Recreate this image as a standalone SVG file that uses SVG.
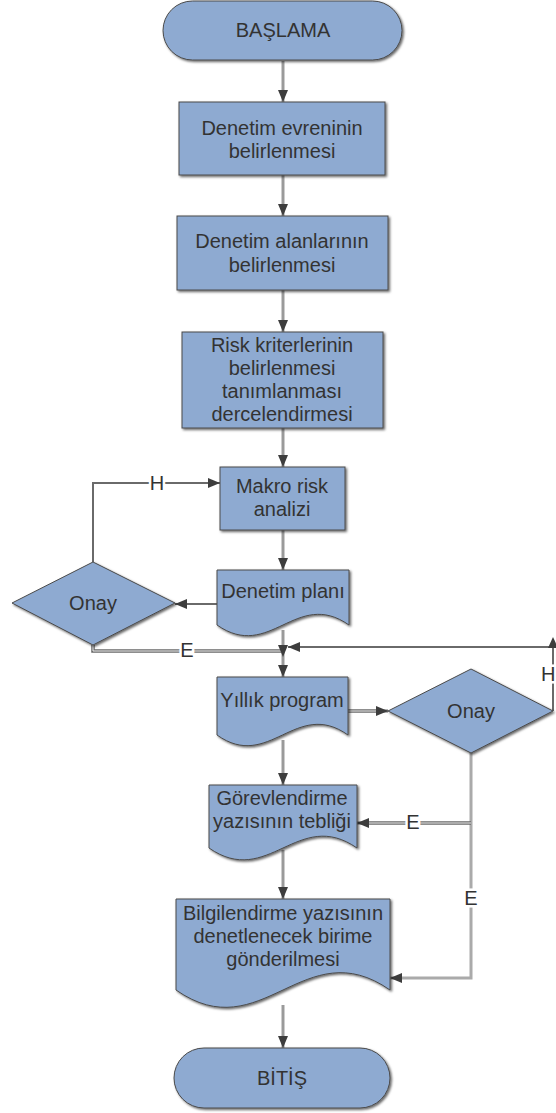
<svg xmlns="http://www.w3.org/2000/svg" width="556" height="1113" viewBox="0 0 556 1113">
<style>
.n{fill:#8eaad1;stroke:#4a4a4a;stroke-width:1;filter:url(#sh)}
.t{font-family:"Liberation Sans",Arial,sans-serif;font-size:20px;fill:#333;text-anchor:middle}
.lb{font-family:"Liberation Sans",Arial,sans-serif;font-size:20px;fill:#333;text-anchor:middle;stroke:#fff;stroke-width:5;paint-order:stroke}
.v{fill:none;stroke:#9a9a9a;stroke-width:3;marker-end:url(#ah)}
.s{fill:none;stroke:#6a6a6a;stroke-width:2;marker-end:url(#ah)}
.d{fill:none;stroke:#6a6a6a;stroke-width:3.5}
.di{fill:none;stroke:#eee;stroke-width:1}
</style>
<defs>
<filter id="sh" x="-10%" y="-10%" width="125%" height="130%">
<feDropShadow dx="1.5" dy="1.5" stdDeviation="0.8" flood-color="#000" flood-opacity="0.6"/>
</filter>
<marker id="ah" viewBox="0 0 12 10" refX="12" refY="5" markerWidth="12" markerHeight="10" orient="auto" markerUnits="userSpaceOnUse">
<path d="M0,0 L12,5 L0,10 z" fill="#3d3d3d"/>
</marker>
</defs>
<g id="connectors">
<path class="v" d="M283,61 V102"/>
<path class="v" d="M283,175 V216"/>
<path class="v" d="M283,290 V332"/>
<path class="v" d="M283,428 V467"/>
<path class="v" d="M283,530 V570"/>
<path class="s" d="M217,604 H175"/>
<path class="s" d="M93,562 V483 H220"/>
<path class="d" d="M93,645 V651 H281"/>
<path class="di" d="M93,645 V651 H281"/>
<path class="v" d="M283,630 V677"/>
<path class="s" d="M283,645 V657" style="stroke:none"/>
<path class="s" d="M553,711 V647 H288"/>
<polygon points="553,637 558,648 548,648" fill="#3d3d3d"/>
<path class="d" d="M348,711 H380"/>
<path class="di" d="M348,711 H380"/>
<path class="s" d="M378,711 H388" style="stroke-width:3"/>
<path class="v" d="M283,740 V785"/>
<path class="v" d="M471,753 V978 H390" style="stroke:#aaa"/>
<path class="d" d="M471,823 H365"/>
<path class="di" d="M471,823 H365"/>
<path class="s" d="M367,823 H357" style="stroke-width:3"/>
<path class="v" d="M283,850 V899"/>
<path class="v" d="M283,1005 V1048"/>
<text class="lb" x="157" y="490">H</text>
<text class="lb" x="187" y="657">E</text>
<text class="lb" x="413" y="829">E</text>
<text class="lb" x="471" y="905">E</text>
<text class="lb" x="541" y="681" style="text-anchor:start">H</text>
</g>
<g id="start">
<rect class="n" x="163" y="1" width="239" height="59" rx="29.5"/>
<text class="t" x="283" y="37">BAŞLAMA</text>
</g>
<g id="evren">
<rect class="n" x="179" y="102" width="206" height="73"/>
<text class="t" x="282" y="135">Denetim evreninin</text>
<text class="t" x="282" y="158">belirlenmesi</text>
</g>
<g id="alan">
<rect class="n" x="177" y="216" width="211" height="74"/>
<text class="t" x="282" y="248">Denetim alanlarının</text>
<text class="t" x="282" y="272">belirlenmesi</text>
</g>
<g id="risk">
<rect class="n" x="182" y="332" width="201" height="96"/>
<text class="t" x="282" y="352">Risk kriterlerinin</text>
<text class="t" x="282" y="375">belirlenmesi</text>
<text class="t" x="282" y="398">tanımlanması</text>
<text class="t" x="282" y="421">dercelendirmesi</text>
</g>
<g id="makro">
<rect class="n" x="220" y="467" width="125" height="63"/>
<text class="t" x="282" y="493">Makro risk</text>
<text class="t" x="282" y="516">analizi</text>
</g>
<g id="plan">
<path class="n" d="M217,570 H349 V625 C296,588 270,662 217,625 Z"/>
<text class="t" x="283" y="598">Denetim planı</text>
</g>
<g id="onay1">
<polygon class="n" points="12,603 93,562 175,603 93,645"/>
<text class="t" x="93" y="610">Onay</text>
</g>
<g id="yillik">
<path class="n" d="M217,677 H348 V735 C296,698 269,772 217,735 Z"/>
<text class="t" x="282" y="707">Yıllık program</text>
</g>
<g id="onay2">
<polygon class="n" points="388,711 471,669 553,711 471,753"/>
<text class="t" x="471" y="718">Onay</text>
</g>
<g id="gorev">
<path class="n" d="M209,785 H357 V848 C298,807 268,889 209,848 Z"/>
<text class="t" x="282" y="805">Görevlendirme</text>
<text class="t" x="282" y="828">yazısının tebliği</text>
</g>
<g id="bilgi">
<path class="n" d="M176,899 H390 V990 C304,930 262,1050 176,990 Z"/>
<text class="t" x="283" y="920">Bilgilendirme yazısının</text>
<text class="t" x="283" y="943">denetlenecek birime</text>
<text class="t" x="283" y="966">gönderilmesi</text>
</g>
<g id="end">
<rect class="n" x="174" y="1048" width="216" height="60" rx="30"/>
<text class="t" x="282" y="1085">BİTİŞ</text>
</g>
</svg>
